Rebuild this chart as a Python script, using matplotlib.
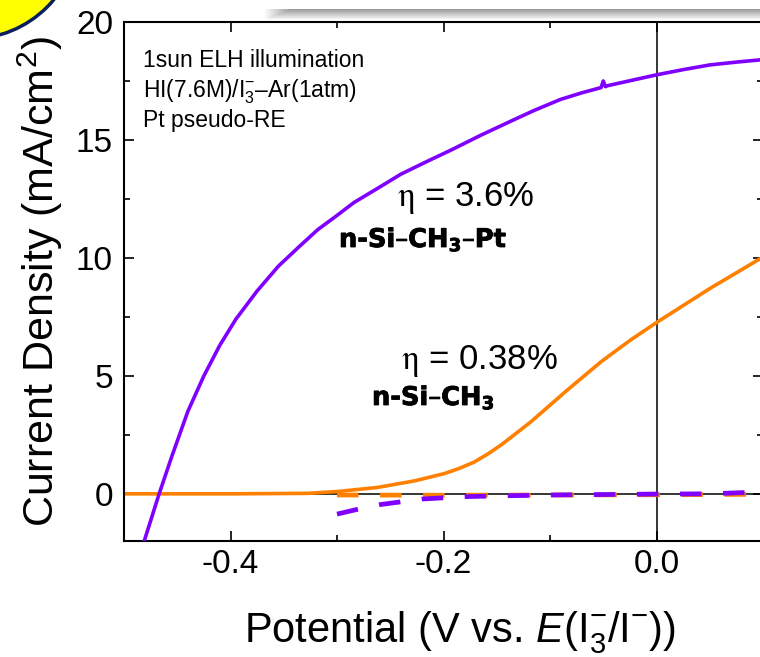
import matplotlib
matplotlib.use("Agg")
import matplotlib.pyplot as plt
from matplotlib.patches import Ellipse
from matplotlib.ticker import MultipleLocator
import matplotlib.patheffects as pe
import numpy as np

plt.rcParams['font.family'] = ['Liberation Sans', 'DejaVu Sans']
plt.rcParams['mathtext.fontset'] = 'custom'
plt.rcParams['mathtext.rm'] = 'Liberation Sans'
plt.rcParams['mathtext.it'] = 'Liberation Sans:italic'
plt.rcParams['mathtext.bf'] = 'Liberation Sans:bold'
plt.rcParams['axes.unicode_minus'] = False
plt.rcParams['lines.scale_dashes'] = False

# ---------------- data ----------------
# n-Si-CH3-Pt, illuminated (purple solid)
pt_light_v = [-0.481, -0.467, -0.455, -0.440, -0.425, -0.410, -0.395, -0.375,
              -0.355, -0.335, -0.318, -0.300, -0.284, -0.260, -0.240, -0.215,
              -0.193, -0.165, -0.139, -0.115, -0.090, -0.070, -0.052, -0.050,
              -0.048, -0.046, 0.0, 0.025, 0.05, 0.075, 0.0986]
pt_light_j = [-2.0, 0.0, 1.6, 3.5, 5.0, 6.3, 7.4, 8.6,
              9.65, 10.5, 11.2, 11.8, 12.35, 13.0, 13.55, 14.1,
              14.57, 15.2, 15.75, 16.25, 16.72, 17.0, 17.22, 17.5,
              17.26, 17.3, 17.76, 17.98, 18.18, 18.3, 18.4]

# n-Si-CH3, illuminated (orange solid)
me_light_v = [-0.50, -0.40, -0.327, -0.299, -0.262, -0.227, -0.199, -0.185,
              -0.171, -0.158, -0.145, -0.118, -0.085, -0.052, -0.025, 0.0,
              0.05, 0.0986]
me_light_j = [0.0, 0.0, 0.02, 0.10, 0.27, 0.55, 0.86, 1.08,
              1.35, 1.7, 2.1, 3.05, 4.35, 5.6, 6.5, 7.26,
              8.7, 10.0]

# n-Si-CH3-Pt, dark (purple dashed)
pt_dark_v = [-0.30, -0.28, -0.26, -0.24, -0.22, -0.20, -0.18, -0.15,
             -0.10, -0.05, 0.0, 0.05, 0.08, 0.10]
pt_dark_j = [-0.86, -0.65, -0.46, -0.34, -0.22, -0.17, -0.12, -0.09,
             -0.05, -0.03, -0.01, 0.0, 0.05, 0.06]

# n-Si-CH3, dark (orange dashed)
me_dark_v = [-0.30, -0.20, -0.10, 0.0, 0.10]
me_dark_j = [-0.05, -0.06, -0.05, -0.04, -0.02]

x_ticks = [-0.4, -0.2, 0.0]
x_tick_labels = ['-0.4', '-0.2', '0.0']
y_ticks = [0, 5, 10, 15, 20]

PURPLE = '#8000ff'
ORANGE = '#ff8000'

W, H = 760, 657
fig = plt.figure(figsize=(W / 100, H / 100), dpi=100)

# decorations of the slide (yellow disc at top-left, grey bar at top)
disc = Ellipse((-30 / W, 1 + 70 / H), 218 / W, 218 / H, transform=fig.transFigure,
               facecolor='#ffff00', edgecolor='#0b1f5c', lw=2.5, zorder=0)
fig.patches.append(disc)
bar_ax = fig.add_axes([263 / W, 1 - 19 / H, (W - 263) / W, 10 / H])
grad = np.linspace(0.6, 0.95, 20).reshape(-1, 1) * np.ones((1, 200))
grad[:, :12] = np.maximum(grad[:, :12], np.linspace(1.0, 0.6, 12)[None, :])
bar_ax.imshow(grad, cmap='gray', vmin=0, vmax=1, aspect='auto')
bar_ax.axis('off')

ax = fig.add_axes([124 / W, 1 - 541 / H, 639 / W, 519 / H])
ax.set_xlim(-0.5, 0.1)
ax.set_ylim(-2, 20)

ax.axhline(0, color='black', lw=1.1, zorder=1)
ax.axvline(0, color='black', lw=1.1, zorder=1)

ax.plot(me_light_v, me_light_j, color=ORANGE, lw=2.6, zorder=2)
l1, = ax.plot(me_dark_v, me_dark_j, color=ORANGE, lw=3.4, zorder=3)
l2, = ax.plot(pt_dark_v, pt_dark_j, color=PURPLE, lw=3.4, zorder=4)
for ln in (l1, l2):
    ln.set_dashes([15.5, 15.5])
ax.plot(pt_light_v, pt_light_j, color=PURPLE, lw=2.6, zorder=5)

ax.set_xticks(x_ticks)
ax.set_xticklabels(x_tick_labels)
ax.set_yticks(y_ticks)
ax.xaxis.set_minor_locator(MultipleLocator(0.1))
ax.yaxis.set_minor_locator(MultipleLocator(2.5))
ax.tick_params(which='both', direction='in', top=True, right=True, width=1.2,
               labelsize=24, colors='black')
ax.tick_params(axis='x', which='major', length=7, pad=6)
ax.tick_params(axis='y', which='major', length=7, pad=8)
ax.tick_params(which='minor', length=4)
for s in ax.spines.values():
    s.set_linewidth(1.5)

ax.set_xlabel(r'Potential (V vs. $\mathit{E}$(I$^{-}_{3}$/I$^{-}$))', fontsize=30)
ax.xaxis.label.set_va('baseline')
ax.xaxis.set_label_coords(0.526, (541 - 642) / 519)
ax.set_ylabel(r'Current Density (mA/cm$^{2}$)', fontsize=31)
ax.yaxis.label.set_va('baseline')
ax.yaxis.set_label_coords((54 - 124) / 639, 0.5)

# annotation texts
for txt, yb in [('1sun ELH illumination', 67),
                (r'HI(7.6M)/I$_{3}^{-}$–Ar(1atm)', 97),
                ('Pt pseudo-RE', 127)]:
    ax.text((143 - 124) / 639, (541 - yb) / 519, txt, transform=ax.transAxes,
            fontsize=16.5, va='baseline', ha='left')

heavy = [pe.withStroke(linewidth=0.6, foreground='black')]
ax.text((397 - 124) / 639, (541 - 206) / 519, r'$\mathrm{\eta}$ = 3.6%',
        transform=ax.transAxes, fontsize=25, va='baseline', ha='left',
        math_fontfamily='stix')
ax.text((339 - 124) / 639, (541 - 247) / 519, r'n-Si–CH$_{\mathbf{3}}$–Pt',
        transform=ax.transAxes, fontsize=18.5, fontweight='bold',
        family='DejaVu Sans', va='baseline', ha='left',
        math_fontfamily='dejavusans', path_effects=heavy)
ax.text((401 - 124) / 639, (541 - 369) / 519, r'$\mathrm{\eta}$ = 0.38%',
        transform=ax.transAxes, fontsize=25, va='baseline', ha='left',
        math_fontfamily='stix')
ax.text((372 - 124) / 639, (541 - 405) / 519, r'n-Si–CH$_{\mathbf{3}}$',
        transform=ax.transAxes, fontsize=18.5, fontweight='bold',
        family='DejaVu Sans', va='baseline', ha='left',
        math_fontfamily='dejavusans', path_effects=heavy)

fig.savefig('out.png', dpi=100)
